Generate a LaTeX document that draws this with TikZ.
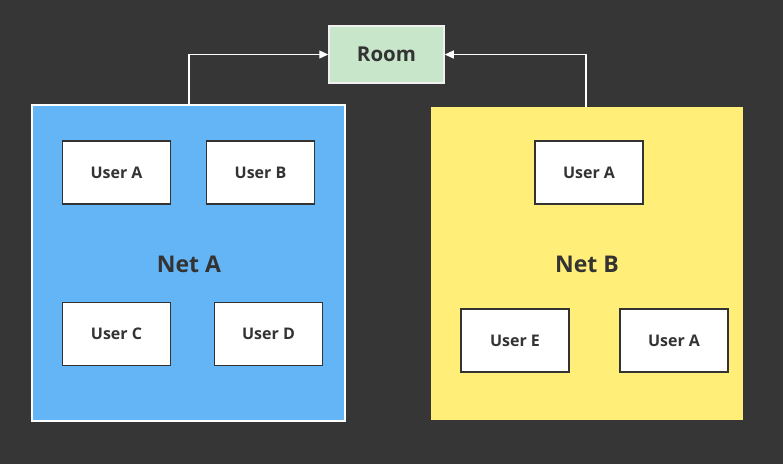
\documentclass[tikz,border=0pt]{standalone}
\usepackage{fontspec}
\setmainfont{Open Sans}
\usetikzlibrary{arrows.meta}
\definecolor{bgc}{HTML}{363636}
\definecolor{netablue}{HTML}{64B5F6}
\definecolor{netbyel}{HTML}{FFEE77}
\definecolor{roomg}{HTML}{C8E6C9}
\definecolor{txt}{HTML}{333333}
\tikzset{
  userbox/.style={draw=txt, line width=1.3pt, fill=white, minimum width=108pt, minimum height=63pt, inner sep=0pt, font=\fontsize{16}{19}\selectfont\bfseries, text=txt},
  netlabel/.style={font=\fontsize{23}{27}\selectfont\bfseries, text=txt},
  conn/.style={draw=white, line width=1.2pt, -{Triangle[length=9pt,width=8pt]}}
}
\begin{document}
\begin{tikzpicture}[x=1pt,y=-1pt]
\fill[bgc] (0,0) rectangle (783,464);
\useasboundingbox (0,0) rectangle (783,464);
\node[draw=white, line width=1.5pt, fill=netablue, minimum width=313pt, minimum height=316pt, inner sep=0pt] (neta) at (188.5,263) {};
\node[fill=netbyel, minimum width=312pt, minimum height=313pt, inner sep=0pt] (netb) at (587,263.5) {};
\node[draw=white!94!black, line width=1.5pt, fill=roomg, minimum width=115pt, minimum height=57pt, inner sep=0pt, font=\fontsize{20.5}{24}\selectfont\bfseries, text=txt] (room) at (386.5,54.5) {Room};
\node[netlabel] (labela) at (189,264) {Net A};
\node[netlabel] (labelb) at (587,264) {Net B};
\node[userbox] (ua) at (116.5,172.5) {User A};
\node[userbox] (ub) at (260.5,172.5) {User B};
\node[userbox] (uc) at (116.5,334) {User C};
\node[userbox] (ud) at (268.5,334) {User D};
\node[userbox] (ba) at (589,172.5) {User A};
\node[userbox] (be) at (515,340.5) {User E};
\node[userbox] (ba2) at (674,340.5) {User A};
\coordinate (ta) at (189,105);
\coordinate (tb) at (586,107);
\draw[conn] (ta) |- (room.west);
\draw[conn] (tb) |- (room.east);
\end{tikzpicture}
\end{document}
